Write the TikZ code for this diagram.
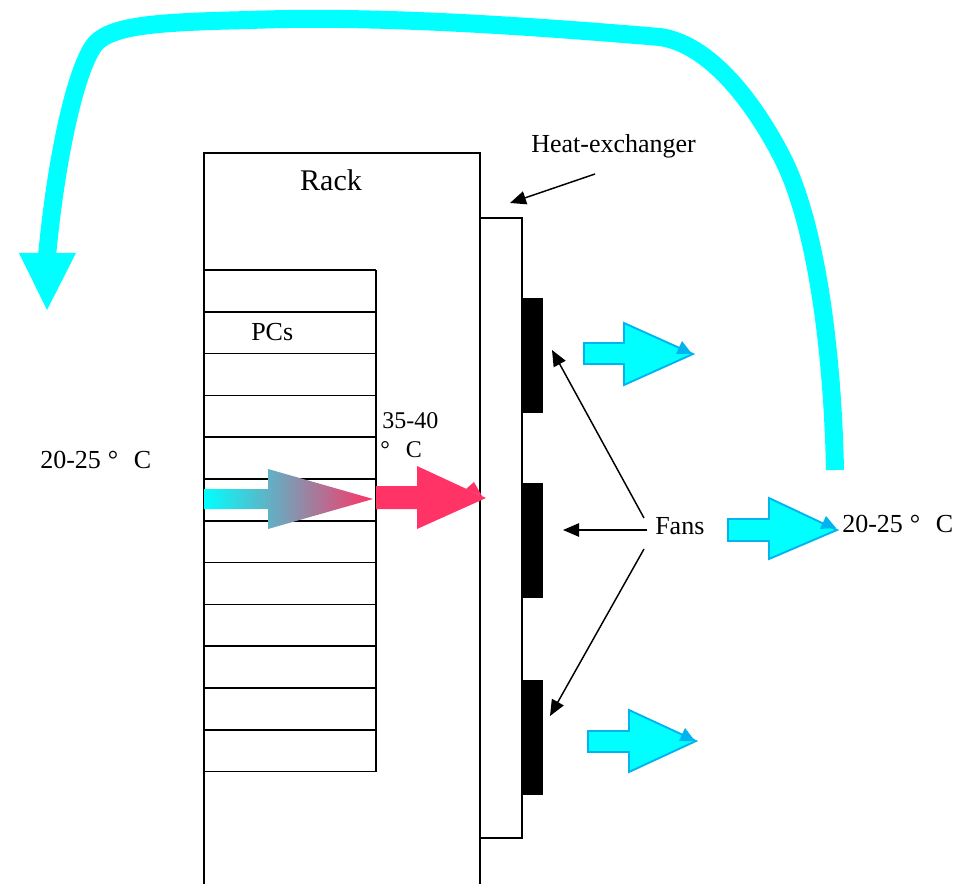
\documentclass[tikz,border=0pt]{standalone}
\usepackage{fontspec}
\setmainfont{Liberation Serif}
\usetikzlibrary{arrows.meta}
\definecolor{aqua}{HTML}{00FFFF}
\definecolor{aquaedge}{HTML}{00B4F0}
\definecolor{hot}{HTML}{FF3366}
\newcommand{\degC}{\hspace{0.27em}°\hspace{0.6em}C}
\begin{document}
\begin{tikzpicture}[x=0.75pt,y=-0.75pt,
  lbl/.style={font=\fontsize{19.5pt}{23pt}\selectfont, inner sep=0pt},
  lblsmall/.style={font=\fontsize{18pt}{21pt}\selectfont, inner sep=0pt},
  frame/.style={draw=black, line width=1.2pt},
  ptr/.style={draw=black, line width=1.1pt, -{Triangle[length=12pt,width=10pt]}},
  coolarrow/.style={fill=aqua, draw=aquaedge, line width=1.4pt, line join=miter},
  tipmark/.style={fill=aquaedge},
  loop/.style={draw=aqua, line width=13.5pt, line cap=butt, line join=round},
  fan/.style={fill=black}]
\useasboundingbox (0,0) rectangle (968,884);

% big return loop
\draw[loop] (835,470) .. controls (832,330) and (812,215) .. (782,157)
   .. controls (760,114) and (715,45) .. (660,37)
   .. controls (540,27) and (380,15) .. (250,20)
   .. controls (160,22) and (115,25) .. (97,42)
   .. controls (80,58) and (58,140) .. (47,256);
\fill[aqua] (19,253) -- (76,253) -- (47,310) -- cycle;

% rack
\draw[frame] (204,884) -- (204,153) -- (480,153) -- (480,884);
% heat exchanger
\draw[frame] (480,218) rectangle (522,838);
% PC slots
\foreach \k in {0,...,12} {
  \draw[frame] (204,{270+41.8*\k}) -- (376,{270+41.8*\k});
}
\draw[frame] (376,270) -- (376,771.6);

% fans
\fill[fan] (522,298) rectangle (543,413);
\fill[fan] (522,483) rectangle (543,598);
\fill[fan] (522,680) rectangle (543,795);

% flow through PC
\shade[left color=aqua, right color=hot] (204,489) -- (268,489) -- (268,469) -- (373,499)
  -- (268,529) -- (268,509) -- (204,509) -- cycle;
\fill[hot] (376,486) -- (417,486) -- (417,466) -- (486,498) -- (417,529) -- (417,509)
  -- (376,509) -- cycle;
\fill[hot] (466,489) -- (474,482) -- (482,496) -- cycle;

% outgoing cool air
\draw[coolarrow] (584,343) -- (624,343) -- (624,323) -- (693,354) -- (624,385) -- (624,364) -- (584,364) -- cycle;
\fill[tipmark] (693,354) ++(-17,0) -- ++(6,-13) -- ++(10,13) -- cycle;
\draw[coolarrow] (728,519) -- (769,519) -- (769,498) -- (837,530) -- (769,559) -- (769,541) -- (728,541) -- cycle;
\fill[tipmark] (837,530) ++(-17,-1) -- ++(6,-13) -- ++(10,12) -- cycle;
\draw[coolarrow] (588,731) -- (629,731) -- (629,710) -- (696,741) -- (629,772) -- (629,752) -- (588,752) -- cycle;
\fill[tipmark] (696,741) ++(-17,0) -- ++(6,-13) -- ++(10,13) -- cycle;

% labels
\node[lbl, anchor=base] (rack) at (331,191) {\fontsize{22.5pt}{26pt}\selectfont Rack};
\node[lbl, anchor=base west] (hx) at (531,153) {Heat-exchanger};
\node[lbl, anchor=base west] (pcs) at (251,341) {PCs};
\node[lbl, anchor=base west] (tin) at (40,468) {20-25\degC};
\node[lbl, anchor=base west] (fans) at (655,534) {Fans};
\node[lbl, anchor=base west] (tout) at (842,532) {20-25\degC};
\node[lblsmall, anchor=base west] (thot) at (382,428) {35-40};
\node[lblsmall, anchor=base west] (thotc) at (380,457) {°\hspace{0.67em}C};

% pointers
\coordinate (hxfrom) at (595,174);
\coordinate (hxto) at (510,203);
\draw[ptr] (hxfrom) -- (hxto);
\coordinate (f1from) at (644,518);
\coordinate (f1to) at (552,350);
\coordinate (f2from) at (647,530);
\coordinate (f2to) at (563,530);
\coordinate (f3from) at (644,549);
\coordinate (f3to) at (550,716);
\draw[ptr] (f1from) -- (f1to);
\draw[ptr] (f2from) -- (f2to);
\draw[ptr] (f3from) -- (f3to);
\end{tikzpicture}
\end{document}
